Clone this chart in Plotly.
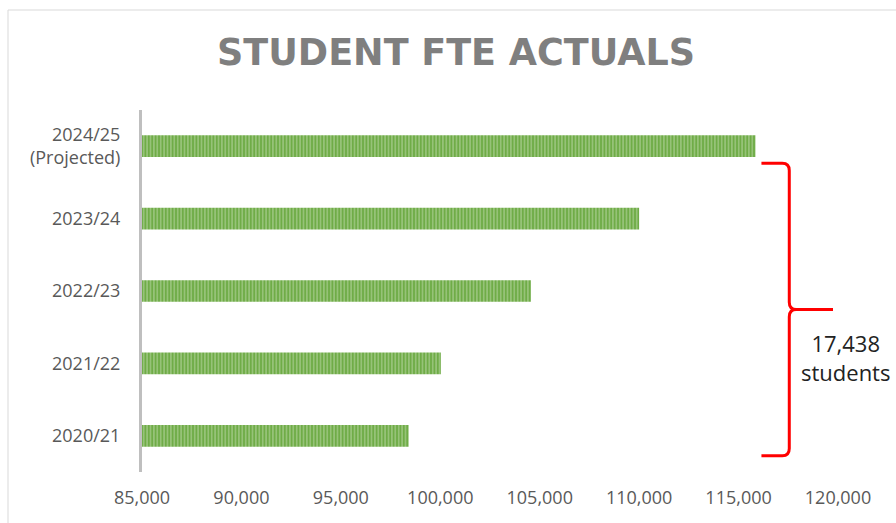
import plotly.graph_objects as go

# ---- data ----
categories = ["2020/21", "2021/22", "2022/23", "2023/24", "2024/25<br>(Projected)"]
fte_values = [98412, 100030, 104560, 110000, 115850]
x_ticks = [85000, 90000, 95000, 100000, 105000, 110000, 115000, 120000]
x_tick_labels = ["85,000", "90,000", "95,000", "100,000", "105,000", "110,000", "115,000", "120,000"]
title_text = "STUDENT FTE ACTUALS"

growth = fte_values[-1] - fte_values[0]
positions = list(range(len(categories)))

W, H = 896, 523
ML, MR, MT, MB = 142, 58, 110, 51
PW = W - ML - MR

fig = go.Figure()
fig.add_trace(go.Bar(
    y=positions,
    x=fte_values,
    base=0,
    orientation="h",
    width=0.3,
    marker=dict(
        color="#70AD47",
        line=dict(width=0),
        pattern=dict(shape="|", fgcolor="#CFE5C0", bgcolor="#6FAC47", size=3.4, solidity=0.4),
    ),
    hoverinfo="x+y",
))

# ---- brace (annotation graphic spanning first to last bar) ----
top = positions[-1] - 0.235
bot = positions[0] - 0.277
mid = (top + bot) / 2
x0 = fte_values[-1] + 300
xs = x0 + 1400
xt = xs + 2200
cx = 350   # curve size in x units
cy = 0.1   # curve size in y units
path = (
    f"M {x0},{top} L {xs - cx},{top} Q {xs},{top} {xs},{top - cy} "
    f"L {xs},{mid + cy} Q {xs},{mid} {xs + cx},{mid} L {xt},{mid} "
    f"M {xs + cx},{mid} Q {xs},{mid} {xs},{mid - cy} "
    f"L {xs},{bot + cy} Q {xs},{bot} {xs - cx},{bot} L {x0},{bot}"
)
fig.add_shape(type="path", path=path, xref="x", yref="y",
              line=dict(color="#FF0000", width=3))

fig.add_annotation(
    x=(845 - ML) / PW, y=positions[1] + 0.08, xref="paper", yref="y",
    text=f"{growth:,}<br>students", showarrow=False,
    font=dict(family="Open Sans", size=22, color="#222222"),
    align="center", xanchor="center", yanchor="middle",
)

# chart frame (light gray border)
fy = (H - MB - 10) / (H - MT - MB)
fx = (8 - ML) / PW
fig.add_shape(type="line", xref="paper", yref="paper",
              x0=fx, x1=1.3, y0=fy, y1=fy,
              line=dict(color="#D9D9D9", width=1))
fig.add_shape(type="line", xref="paper", yref="paper",
              x0=fx, x1=fx, y0=-0.3, y1=fy,
              line=dict(color="#D9D9D9", width=1))

fig.update_layout(
    width=W, height=H,
    margin=dict(l=ML, r=MR, t=MT, b=MB, pad=0),
    paper_bgcolor="white", plot_bgcolor="white",
    showlegend=False,
    title=dict(
        text=f"<b>{title_text}</b>",
        x=456 / W, xanchor="center", y=1 - 52 / H, yanchor="middle",
        font=dict(family="DejaVu Sans", size=36.5, color="#7F7F7F"),
    ),
    font=dict(family="Open Sans", color="#595959", size=18),
)
fig.update_xaxes(
    range=[x_ticks[0], x_ticks[-1]],
    tickvals=x_ticks, ticktext=x_tick_labels,
    showgrid=False, zeroline=False, showline=False,
    ticks="", ticklabelstandoff=13,
    tickfont=dict(family="Open Sans", size=18, color="#595959"),
)
fig.update_yaxes(
    range=[-0.5, len(categories) - 0.5],
    tickvals=positions, ticktext=categories,
    showgrid=False, zeroline=False,
    showline=True, linecolor="#BFBFBF", linewidth=3,
    ticks="", ticklabelstandoff=15,
    tickfont=dict(family="Open Sans", size=18, color="#595959"),
)

fig.write_html("out.html", post_script="document.body.style.margin='0';",
               config={"displayModeBar": False})
